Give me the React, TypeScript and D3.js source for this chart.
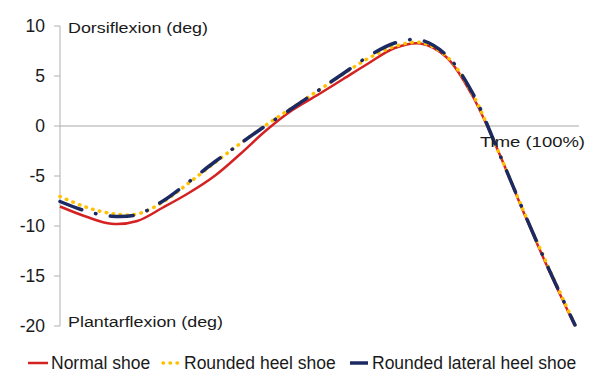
import React from "react";
import * as d3 from "d3";

const timePct = [0, 5, 10, 15, 20, 25, 30, 35, 40, 45, 50, 55, 60, 65, 70, 75, 80, 85, 90, 95, 100];
const normalShoe = [-8.05, -9.05, -9.78, -9.5, -8.15, -6.7, -5.0, -2.8, -0.45, 1.55, 3.1, 4.7, 6.3, 7.8, 8.25, 6.9, 3.1, -2.4, -8.6, -14.5, -20];
const roundedHeel = [-7.05, -8.1, -8.75, -8.8, -7.6, -5.7, -3.7, -1.75, 0.1, 1.8, 3.5, 5.2, 6.8, 7.95, 8.35, 7.0, 3.3, -2.4, -8.5, -14.3, -19.9];
const roundedLateral = [-7.55, -8.5, -9.02, -8.85, -7.5, -5.6, -3.6, -1.75, 0.05, 1.75, 3.5, 5.25, 7.0, 8.3, 8.6, 7.1, 3.4, -2.4, -8.5, -14.4, -19.9];
const yTicks = [10, 5, 0, -5, -10, -15, -20];
const seriesNames = ["Normal shoe", "Rounded heel shoe", "Rounded lateral heel shoe"];

const FONT = "Liberation Sans, Arial, sans-serif";

export default function App() {
  const x = d3.scaleLinear().domain([0, 100]).range([60, 575]);
  const y = d3.scaleLinear().domain([-20, 10]).range([326, 26]);
  const line = d3
    .line<number>()
    .x((_, i) => x(timePct[i]))
    .y((d) => y(d))
    .curve(d3.curveCatmullRom.alpha(0.5));

  const series = [
    { name: seriesNames[0], data: normalShoe, color: "#D42222", width: 2.5, dash: undefined as string | undefined, cap: "butt" },
    { name: seriesNames[1], data: roundedHeel, color: "#FFC000", width: 3.5, dash: "0.5 6.5", cap: "round" },
    { name: seriesNames[2], data: roundedLateral, color: "#1B2A63", width: 3.5, dash: "23 14.5 0.5 14.5", cap: "round" },
  ];

  return (
    <svg width={603} height={382} style={{ position: "absolute", left: 0, top: 0, background: "#fff" }} fontFamily={FONT}>
      <line x1={x(0)} x2={x(0)} y1={y(10)} y2={y(-20)} stroke="#B0B0B0" strokeWidth={1} />
      {yTicks.map((t) => (
        <g key={t}>
          <line x1={x(0) - 6} x2={x(0)} y1={y(t)} y2={y(t)} stroke="#B0B0B0" strokeWidth={1} />
          <text x={45} y={y(t) + 6} textAnchor="end" fontSize={17.5} fill="#1a1a1a">
            {t}
          </text>
        </g>
      ))}
      <line x1={x(0)} x2={579} y1={y(0)} y2={y(0)} stroke="#A8A8A8" strokeWidth={1} />

      {series.map((s) => (
        <path
          key={s.name}
          d={line(s.data) || ""}
          fill="none"
          stroke={s.color}
          strokeWidth={s.width}
          strokeDasharray={s.dash}
          strokeLinecap={s.cap as any}
          strokeLinejoin="round"
        />
      ))}

      <text x={68} y={33} fontSize={15.5} textLength={140} lengthAdjust="spacingAndGlyphs" fill="#1a1a1a">
        Dorsiflexion (deg)
      </text>
      <text x={68} y={327} fontSize={15.5} textLength={155} lengthAdjust="spacingAndGlyphs" fill="#1a1a1a">
        Plantarflexion (deg)
      </text>
      <text x={480} y={147} fontSize={15.5} textLength={105} lengthAdjust="spacingAndGlyphs" fill="#1a1a1a">
        Time (100%)
      </text>

      <line x1={28} x2={48} y1={363} y2={363} stroke={series[0].color} strokeWidth={2.5} />
      <text x={51} y={369} fontSize={17.5} fill="#1a1a1a">{seriesNames[0]}</text>
      <line x1={163} x2={182} y1={363} y2={363} stroke={series[1].color} strokeWidth={3.5} strokeDasharray="0.5 6.5" strokeLinecap="round" />
      <text x={184} y={369} fontSize={17.5} fill="#1a1a1a">{seriesNames[1]}</text>
      <line x1={350} x2={368} y1={363} y2={363} stroke={series[2].color} strokeWidth={3.5} />
      <text x={372} y={369} fontSize={17.5} fill="#1a1a1a">{seriesNames[2]}</text>
    </svg>
  );
}
